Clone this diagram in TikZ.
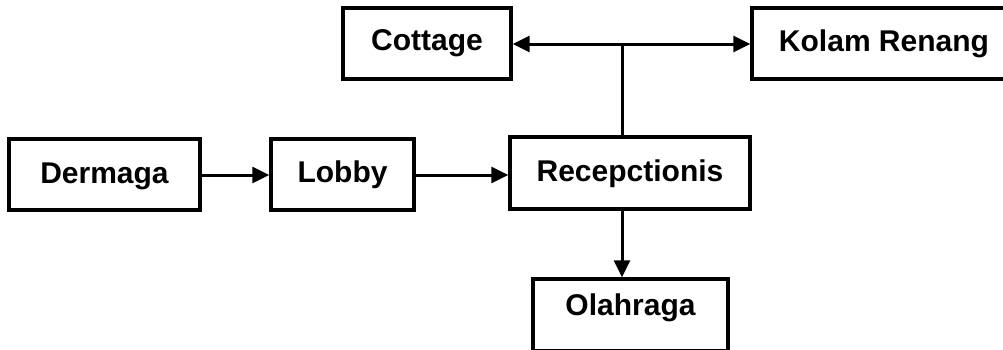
\documentclass[tikz,border=0pt]{standalone}
\usepackage{fontspec}
\setmainfont{Liberation Sans}
\usetikzlibrary{arrows.meta}
\begin{document}
\begin{tikzpicture}[x=1pt,y=-1pt,
  box/.style={draw=black, line width=3.3pt, rectangle, inner sep=0pt,
    font=\fontsize{30}{35}\selectfont\bfseries, text=black},
  link/.style={draw=black, line width=3pt, -{Triangle[length=17pt,width=16pt]}},
  plain/.style={draw=black, line width=3pt}]
\useasboundingbox (0,0) rectangle (1003,349);
\node[box, minimum width=191pt, minimum height=71pt] (dermaga) at (104.5,174.5) {\raisebox{-2pt}[\height][\depth]{Dermaga}};
\node[box, minimum width=143pt, minimum height=71pt] (lobby) at (342.5,174.5) {Lobby};
\node[box, minimum width=240pt, minimum height=72pt] (recep) at (630,173) {\raisebox{-1pt}[\height][\depth]{Recepctionis}};
\node[box, minimum width=168pt, minimum height=71pt] (cottage) at (427,43.5) {Cottage};
\node[box, minimum width=264pt, minimum height=71pt] (kolam) at (884,43.5) {Kolam Renang};
\node[box, minimum width=195pt, minimum height=72pt] (olah) at (630.5,315) {\raisebox{7pt}[\height][\depth]{Olahraga}};
\coordinate (j) at (622,44);
\draw[link] (dermaga.east |- 0,175) -- (lobby.west |- 0,175);
\draw[link] (lobby.east |- 0,175) -- (recep.west |- 0,175);
\draw[plain] (recep.north -| j) -- (j);
\draw[link] (j) -- (cottage.east |- j);
\draw[link] (j) -- (kolam.west |- j);
\draw[link] (recep.south -| j) -- (olah.north -| j);
\end{tikzpicture}
\end{document}
